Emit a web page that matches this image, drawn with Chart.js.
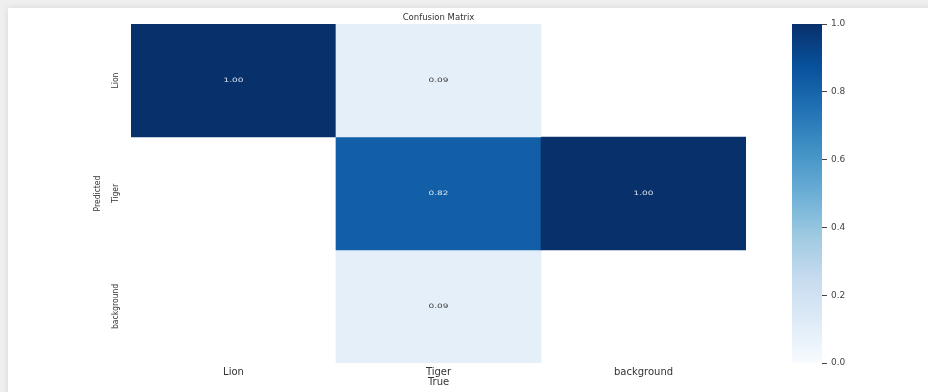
<!DOCTYPE html>
<html>
<head>
<meta charset="utf-8">
<script src="https://cdn.jsdelivr.net/npm/chart.js@4.4.1/dist/chart.umd.min.js"></script>
<style>
    body { margin: 0; background: #efefef; overflow: hidden; }
    #card { position: absolute; left: 8px; top: 8px; width: 940px; height: 400px; background: #fff; box-shadow: 0 0 7px rgba(0,0,0,0.10); }
    #matrix { position: absolute; left: 0; top: 0; }
    #colorbar { position: absolute; left: 760px; top: 0; }
</style>
</head>
<body>
<div id="card"></div>
<canvas id="matrix" width="928" height="392"></canvas>
<canvas id="colorbar" width="120" height="392"></canvas>
<script>
// ---------------- Data ----------------
const colLabels = ['Lion', 'Tiger', 'background'];   // True
const rowLabels = ['Lion', 'Tiger', 'background'];   // Predicted
const lionRow = [1.00, 0.09, 0];
const tigerRow = [0, 0.82, 1.00];
const backgroundRow = [0, 0.09, 0];
const rows = [lionRow, tigerRow, backgroundRow];
const colorbarTicks = [0, 0.2, 0.4, 0.6, 0.8, 1.0];

// matplotlib "Blues"
const blues = ['#f7fbff', '#deebf7', '#c6dbef', '#9ecae1', '#6baed6', '#4292c6', '#2171b5', '#08519c', '#08306b'];

function hexRgb(h) {
    return [1, 3, 5].map(i => parseInt(h.substr(i, 2), 16));
}
function bluesAt(v) {
    const t = Math.max(0, Math.min(1, v)) * (blues.length - 1);
    const i = Math.min(Math.floor(t), blues.length - 2);
    const f = t - i;
    const a = hexRgb(blues[i]), b = hexRgb(blues[i + 1]);
    const c = a.map((x, k) => Math.round(x + (b[k] - x) * f));
    return `rgb(${c[0]}, ${c[1]}, ${c[2]})`;
}

const tickFont = { family: 'DejaVu Sans', size: 10, lineHeight: 1 };
const narrowFont = { family: '"Liberation Sans Narrow", "DejaVu Sans Condensed", "Liberation Sans", sans-serif', size: 8.5 };

// ---------------- Cell annotations ----------------
const cellText = {
    id: 'cellText',
    afterDatasetsDraw(chart) {
        const ctx = chart.ctx;
        ctx.save();
        ctx.font = '6px "DejaVu Sans"';
        ctx.textAlign = 'center';
        ctx.textBaseline = 'middle';
        chart.data.datasets.forEach((ds, r) => {
            chart.getDatasetMeta(r).data.forEach((bar, c) => {
                const v = rows[r][c];
                if (!v) return;
                ctx.save();
                ctx.translate(bar.x, (bar.y + bar.base) / 2);
                ctx.scale(1.5, 1);
                ctx.fillStyle = v > 0.5 ? 'rgba(240,245,252,0.9)' : '#3a3a3a';
                ctx.fillText(v.toFixed(2), 0, 0);
                ctx.restore();
            });
        });
        ctx.restore();
    }
};

// ---------------- Confusion matrix ----------------
new Chart(document.getElementById('matrix'), {
    type: 'bar',
    data: {
        labels: colLabels,
        datasets: rows.map((row, r) => ({
            label: rowLabels[r],
            data: row.map(() => [r, r + 1]),
            backgroundColor: row.map(v => v > 0 ? bluesAt(v) : 'rgba(0,0,0,0)'),
            borderWidth: 0,
            grouped: false,
            barPercentage: 1,
            categoryPercentage: 1
        }))
    },
    options: {
        responsive: false,
        animation: false,
        layout: { padding: { left: 88, right: 182, top: 0, bottom: 5 } },
        plugins: {
            legend: { display: false },
            tooltip: { enabled: false },
            title: {
                display: true,
                text: 'Confusion Matrix',
                fullSize: false,
                color: '#333',
                font: { family: 'DejaVu Sans', size: 8.5, weight: 'normal', lineHeight: 1.2 },
                padding: { top: 13, bottom: 0.8 }
            }
        },
        scales: {
            x: {
                afterFit: s => { s.height = 24; },
                grid: { display: false, drawTicks: false },
                border: { display: false },
                ticks: { color: '#333', font: tickFont, padding: 4 },
                title: { display: true, text: 'True', color: '#333', font: tickFont, padding: 0 }
            },
            y: {
                type: 'linear',
                reverse: true,
                min: 0,
                max: 3,
                afterBuildTicks: s => { s.ticks = [0.5, 1.5, 2.5].map(v => ({ value: v })); },
                afterFit: s => { s.width = 43; },
                grid: { display: false, drawTicks: false },
                border: { display: false },
                ticks: {
                    callback: (v, i) => rowLabels[i],
                    minRotation: 90,
                    maxRotation: 90,
                    crossAlign: 'center',
                    padding: -7,
                    color: '#333',
                    font: narrowFont
                },
                title: { display: true, text: 'Predicted', color: '#333', font: narrowFont, padding: { top: 5, bottom: 0 } }
            }
        }
    },
    plugins: [cellText]
});

// ---------------- Colour bar ----------------
new Chart(document.getElementById('colorbar'), {
    type: 'bar',
    data: {
        labels: [''],
        datasets: [{
            data: [[0, 1]],
            backgroundColor: c => {
                const area = c.chart.chartArea;
                if (!area) return blues[4];
                const g = c.chart.ctx.createLinearGradient(0, area.bottom, 0, area.top);
                blues.forEach((col, i) => g.addColorStop(i / (blues.length - 1), col));
                return g;
            },
            borderWidth: 0,
            barPercentage: 1,
            categoryPercentage: 1
        }]
    },
    options: {
        responsive: false,
        animation: false,
        layout: { padding: { left: 32, right: 28, top: 24, bottom: 29 } },
        plugins: { legend: { display: false }, tooltip: { enabled: false } },
        scales: {
            x: { display: false },
            y: {
                position: 'right',
                min: 0,
                max: 1,
                afterBuildTicks: s => { s.ticks = colorbarTicks.map(v => ({ value: v })); },
                afterFit: s => { s.width = 30; },
                grid: { drawOnChartArea: false, drawTicks: true, tickLength: 5, tickColor: '#444', tickWidth: 1 },
                border: { display: false },
                ticks: { callback: v => v.toFixed(1), color: '#444', font: { family: 'DejaVu Sans', size: 9 }, padding: 4 }
            }
        }
    }
});
</script>
</body>
</html>
